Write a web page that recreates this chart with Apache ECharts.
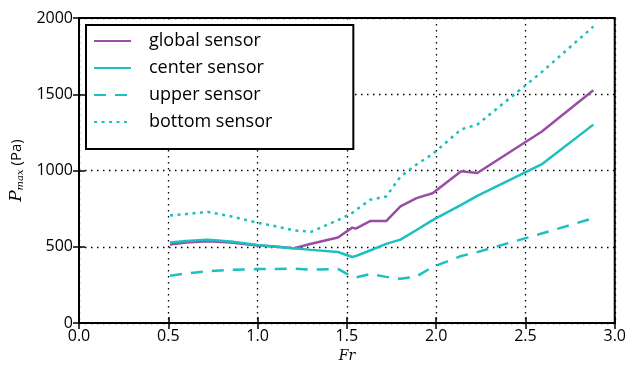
<!DOCTYPE html>
<html><head><meta charset="utf-8">
<script src="https://cdn.jsdelivr.net/npm/echarts@6/dist/echarts.min.js"></script>
<style>html,body{margin:0;padding:0;background:#fff}#c{width:629px;height:368px}</style>
</head><body><div id="c"></div>
<script>
const Fr = [0.51, 0.6, 0.72, 0.85, 1.0, 1.1, 1.2, 1.3, 1.45, 1.53, 1.55, 1.63, 1.72, 1.80, 1.89, 1.98, 2.14, 2.23, 2.59, 2.88];
const globalSensor = [516, 528, 536, 528, 508, 502, 490, 520, 561, 626, 619, 669, 669, 765, 819, 851, 995, 984, 1254, 1526];
const centerSensor = [529, 538, 547, 535, 512, 500, 490, 480, 466, 433, 440, 476, 519, 547, 610, 675, 775, 834, 1040, 1301];
const upperSensor  = [311, 325, 340, 350, 354, 355, 358, 350, 355, 303, 300, 321, 303, 290, 305, 368, 440, 465, 587, 688];
const bottomSensor = [705, 715, 729, 700, 658, 635, 609, 598, 675, 722, 740, 808, 830, 960, 1040, 1108, 1270, 1301, 1644, 1944];
const xTicks = [0, 0.5, 1.0, 1.5, 2.0, 2.5, 3.0];
const yTicks = [0, 500, 1000, 1500, 2000];

const PURPLE = '#984ea3', CYAN = '#1dbfbf';
const FONT = 'Open Sans';
const pair = a => Fr.map((x, i) => [x, a[i]]);
const chart = echarts.init(document.getElementById('c'), null, {renderer: 'canvas'});
const gridLine = {show: true, lineStyle: {color: '#000', width: 1.3, type: [1.5, 4.5]}};
const mkLine = (name, data, color, type) => ({
  name, type: 'line', data: pair(data), showSymbol: false, symbol: 'none', smooth: false,
  lineStyle: {color, width: 2.5, type, cap: 'butt'}, itemStyle: {color}, z: 3
});
chart.setOption({
  animation: false,
  grid: {left: 78, right: 14, top: 18, bottom: 39, show: true, borderColor: '#000', borderWidth: 2},
  xAxis: [{
    type: 'value', min: 0, max: 3, interval: 0.5,
    axisLine: {show: true, lineStyle: {color: '#000', width: 2}},
    axisTick: {show: true, inside: true, length: 6, lineStyle: {color: '#000', width: 1.5}},
    axisLabel: {color: '#000', fontFamily: FONT, fontSize: 16, margin: 5, formatter: v => v.toFixed(1)},
    splitLine: gridLine,
    name: 'Fr', nameLocation: 'middle', nameGap: 24,
    nameTextStyle: {color: '#000', fontFamily: 'DejaVu Serif', fontStyle: 'italic', fontSize: 14}
  }, {
    type: 'value', position: 'top', min: 0, max: 3, interval: 0.5,
    axisLine: {show: false}, axisLabel: {show: false}, splitLine: {show: false},
    axisTick: {show: true, inside: true, length: 6, lineStyle: {color: '#000', width: 1.5}}
  }],
  yAxis: [{
    type: 'value', min: 0, max: 2000, interval: 500,
    axisLine: {show: true, lineStyle: {color: '#000', width: 2}},
    axisTick: {show: true, inside: true, length: 6, lineStyle: {color: '#000', width: 1.5}},
    axisLabel: {color: '#000', fontFamily: FONT, fontSize: 16, margin: 6, formatter: v => String(v)},
    splitLine: gridLine,
    name: '{p|P}{s|max}{t| (Pa)}', nameLocation: 'middle', nameGap: 48, nameRotate: 90,
    nameTextStyle: {
      color: '#000',
      rich: {
        p: {fontFamily: 'DejaVu Serif', fontStyle: 'italic', fontSize: 17, color: '#000'},
        s: {fontFamily: 'DejaVu Serif', fontStyle: 'italic', fontSize: 10, color: '#000', padding: [8, 0, 0, 0]},
        t: {fontFamily: FONT, fontSize: 15, color: '#000'}
      }
    }
  }, {
    type: 'value', position: 'right', min: 0, max: 2000, interval: 500,
    axisLine: {show: false}, axisLabel: {show: false}, splitLine: {show: false},
    axisTick: {show: true, inside: true, length: 6, lineStyle: {color: '#000', width: 1.5}}
  }],
  legend: {
    left: 86, top: 25, orient: 'vertical',
    backgroundColor: '#fff', borderColor: '#000', borderWidth: 2, borderRadius: 0,
    padding: [7, 81, 18, 7], itemWidth: 37, itemHeight: 20, itemGap: 9,
    itemStyle: {opacity: 0},
    textStyle: {color: '#000', fontFamily: FONT, fontSize: 18, padding: [0, 0, 0, 13]},
    data: ['global sensor', 'center sensor', 'upper sensor', 'bottom sensor'],
    z: 10
  },
  series: [
    mkLine('global sensor', globalSensor, PURPLE, 'solid'),
    mkLine('center sensor', centerSensor, CYAN, 'solid'),
    mkLine('upper sensor', upperSensor, CYAN, [12, 9]),
    mkLine('bottom sensor', bottomSensor, CYAN, [3, 4.5])
  ]
});
</script></body></html>
